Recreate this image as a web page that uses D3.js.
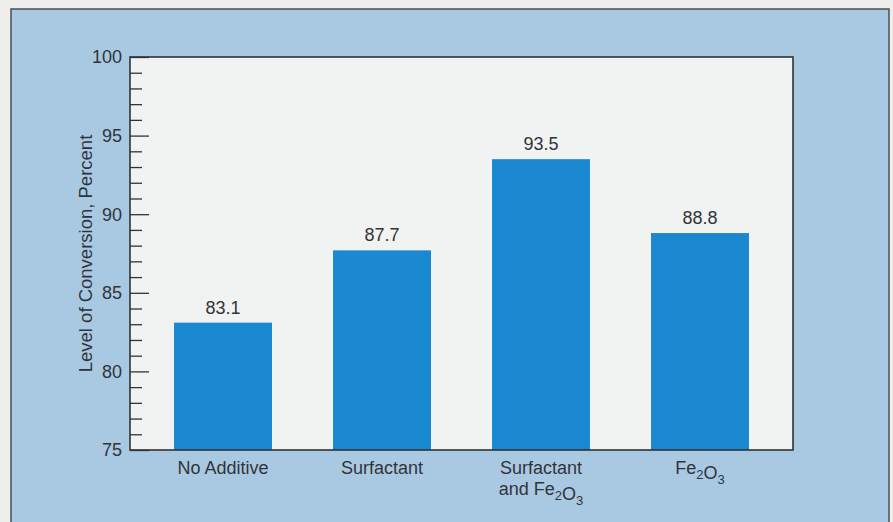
<!DOCTYPE html>
<html>
<head>
<meta charset="utf-8">
<script src="https://cdn.jsdelivr.net/npm/d3@7"></script>
<style>
    html, body { margin: 0; padding: 0; background: #eeeeec; }
    svg { display: block; font-family: "Liberation Sans", Arial, sans-serif; }
</style>
</head>
<body>
<svg id="chart"></svg>
<script>
// categories, one entry per line of the label (digits become subscripts)
const categories = ["No Additive", "Surfactant", "Surfactant|and Fe2O3", "Fe2O3"];
const values = [83.1, 87.7, 93.5, 88.8];
const yTicks = [75, 80, 85, 90, 95, 100];
const yTitle = "Level of Conversion, Percent";

(function () {
    const width = 893, height = 522;
    const plot = { left: 130, right: 793, top: 57, bottom: 450 };
    const ink = "#30343a";

    const svg = d3.select("#chart")
        .attr("width", width)
        .attr("height", height);

    // page + blue panel
    svg.append("rect")
        .attr("width", width).attr("height", height)
        .attr("fill", "#eeeeec");
    svg.append("rect")
        .attr("x", 11).attr("y", 9)
        .attr("width", 878).attr("height", 540)
        .attr("fill", "#a9c9e3")
        .attr("stroke", "#4a4f55")
        .attr("stroke-width", 1.5);

    const x = d3.scaleBand()
        .domain(categories)
        .range([plot.left, plot.right])
        .paddingInner(0.384)
        .paddingOuter(0.277);

    const y = d3.scaleLinear()
        .domain([75, 100])
        .range([plot.bottom, plot.top]);

    // plot area
    svg.append("rect")
        .attr("x", plot.left).attr("y", plot.top)
        .attr("width", plot.right - plot.left)
        .attr("height", plot.bottom - plot.top)
        .attr("fill", "#f1f2f2");

    // bars
    svg.selectAll("rect.bar")
        .data(values)
        .enter()
        .append("rect")
        .attr("class", "bar")
        .attr("x", (d, i) => x(categories[i]))
        .attr("y", d => y(d))
        .attr("width", x.bandwidth())
        .attr("height", d => y(75) - y(d))
        .attr("fill", "#1a88d0");

    // value labels
    svg.selectAll("text.val")
        .data(values)
        .enter()
        .append("text")
        .attr("class", "val")
        .attr("x", (d, i) => x(categories[i]) + x.bandwidth() / 2)
        .attr("y", d => y(d) - 9)
        .attr("text-anchor", "middle")
        .attr("font-size", 18)
        .attr("fill", ink)
        .text(d => d.toFixed(1));

    // minor + major ticks, drawn inside the frame
    const minor = d3.range(76, 100).filter(v => v % 5 !== 0);
    svg.append("g")
        .attr("transform", `translate(${plot.left},0)`)
        .call(d3.axisRight(y).tickValues(minor).tickSize(12).tickFormat(""))
        .call(g => g.select(".domain").remove())
        .selectAll("line").attr("stroke", ink).attr("stroke-width", 1.3);

    svg.append("g")
        .attr("transform", `translate(${plot.left},0)`)
        .call(d3.axisRight(y).tickValues(yTicks).tickSize(19).tickFormat(""))
        .call(g => g.select(".domain").remove())
        .selectAll("line").attr("stroke", ink).attr("stroke-width", 1.3);

    svg.append("g")
        .selectAll("text")
        .data(yTicks)
        .enter()
        .append("text")
        .attr("x", plot.left - 8)
        .attr("y", d => y(d))
        .attr("dy", "0.35em")
        .attr("text-anchor", "end")
        .attr("font-size", 18)
        .attr("fill", ink)
        .text(d => d);

    // frame
    svg.append("rect")
        .attr("x", plot.left).attr("y", plot.top)
        .attr("width", plot.right - plot.left)
        .attr("height", plot.bottom - plot.top)
        .attr("fill", "none")
        .attr("stroke", "#2e3236")
        .attr("stroke-width", 1.6);

    // y title
    svg.append("text")
        .attr("transform", `translate(92,${(plot.top + plot.bottom) / 2}) rotate(-90)`)
        .attr("text-anchor", "middle")
        .attr("font-size", 18.5)
        .attr("fill", ink)
        .text(yTitle);

    // category labels, with chemical subscripts
    categories.forEach(c => {
        c.split("|").forEach((line, li) => {
            const t = svg.append("text")
                .attr("x", x(c) + x.bandwidth() / 2)
                .attr("y", plot.bottom + 24 + li * 21)
                .attr("text-anchor", "middle")
                .attr("font-size", 18)
                .attr("fill", ink);
            line.split(/(\d)/).filter(s => s.length).forEach(part => {
                if (/^\d$/.test(part)) {
                    t.append("tspan").attr("font-size", 13).attr("dy", 5).text(part);
                    t.append("tspan").attr("dy", -5).text("");
                } else {
                    t.append("tspan").text(part);
                }
            });
        });
    });
})();
</script>
</body>
</html>
